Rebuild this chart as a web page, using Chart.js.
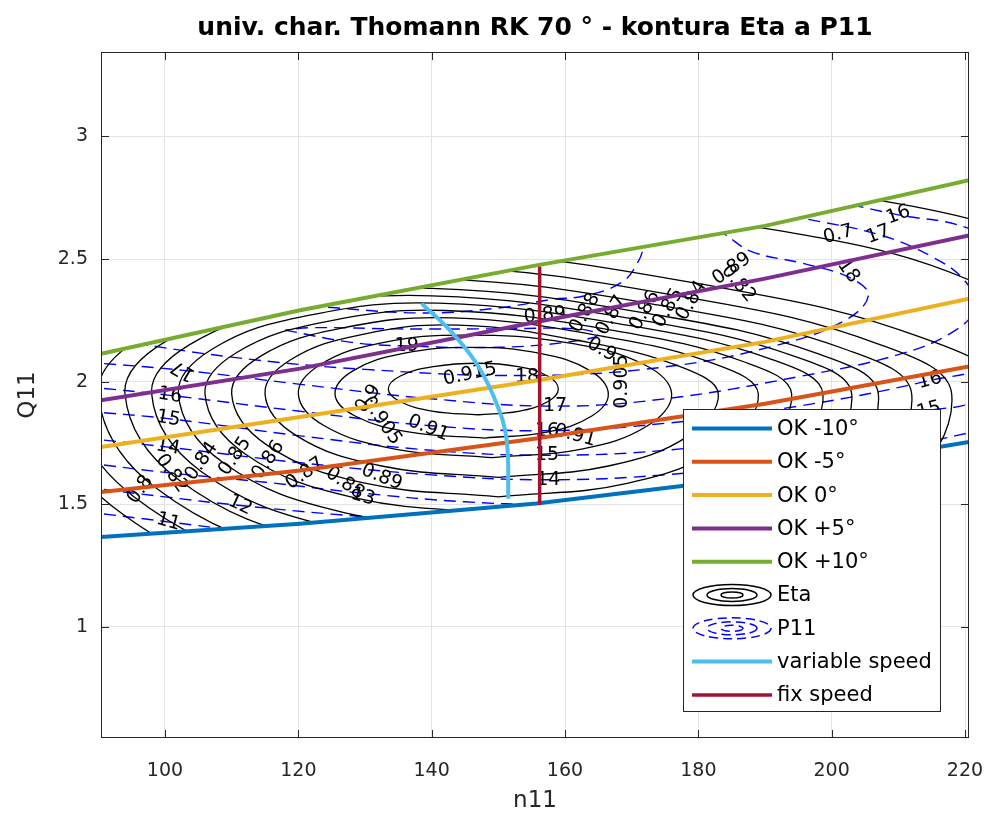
<!DOCTYPE html>
<html lang="en">
<head>
<meta charset="UTF-8">
<title>univ. char. Thomann RK 70</title>
<script src="https://cdn.jsdelivr.net/npm/chart.js"></script>
<style>
  body { margin: 0; background: #ffffff; }
  #wrap { width: 986px; height: 821px; }
</style>
</head>
<body>
<div id="wrap"><canvas id="chart" width="986" height="821"></canvas></div>
<script>
// axis ranges and ticks
const xMin = 90.4, xMax = 220.6;
const yMin = 0.547, yMax = 3.344;
const xTicks = [100, 120, 140, 160, 180, 200, 220];
const yTicks = [1, 1.5, 2, 2.5, 3];

// operating lines (n11, Q11)
const okM10 = [[90.4, 1.367], [120.25, 1.421], [155.7, 1.503], [190, 1.615], [220.6, 1.754]];
const okM5 = [[90.4, 1.55], [120.25, 1.638], [155.7, 1.768], [190, 1.91], [220.6, 2.062]];
const ok0 = [[90.4, 1.733], [120.25, 1.856], [155.7, 2.005], [190, 2.162], [220.6, 2.338]];
const okP5 = [[90.4, 1.924], [120.25, 2.053], [155.7, 2.243], [190, 2.42], [220.6, 2.596]];
const okP10 = [[90.4, 2.114], [120.25, 2.291], [155.7, 2.474], [190, 2.635], [220.6, 2.821]];
const varSpeed = [[138.5, 2.318], [142.75, 2.209], [146.75, 2.073], [149.75, 1.91], [151.25, 1.761], [151.5, 1.523]];
const fixSpeed = [[156.2, 1.497], [156.2, 2.468]];

// Eta contours
const eta0915 = [[147,1.865],[140.25,1.879],[135.31,1.918],[133.5,1.97],[135.31,2.023],[140.25,2.061],[147,2.075],[153,2.061],[157.39,2.023],[159,1.97],[157.39,1.918],[153,1.879],[147,1.865]];
const eta091 = [[148,1.77],[136.75,1.794],[128.51,1.86],[125.5,1.95],[128.25,2.045],[135.75,2.115],[146,2.14],[156.25,2.115],[163.75,2.045],[166.5,1.95],[164.02,1.86],[157.25,1.794],[148,1.77]];
const eta0905 = [[149,1.69],[134.5,1.725],[123.89,1.82],[120,1.95],[123.35,2.07],[132.5,2.158],[145,2.19],[160.5,2.158],[171.85,2.07],[176,1.95],[172.38,1.82],[162.5,1.725],[149,1.69]];
const eta09 = [[150,1.61],[132.5,1.656],[119.69,1.78],[115,1.95],[118.89,2.09],[129.5,2.192],[144,2.23],[163.5,2.16],[177.77,2.056],[183,1.95],[178.58,1.78],[166.5,1.656],[150,1.61]];
const eta089 = [[150,1.53],[130,1.586],[115.36,1.74],[110,1.95],[114.42,2.105],[126.5,2.218],[143,2.26],[166,2.183],[182.84,2.068],[189,1.95],[183.77,1.74],[169.5,1.586],[150,1.53]];
const eta088 = [[151,1.46],[128.5,1.526],[112.03,1.705],[106,1.95],[110.82,2.12],[124,2.244],[142,2.29],[168,2.205],[187.03,2.079],[194,1.95],[188.24,1.705],[172.5,1.526],[151,1.46]];
const eta087 = [[152,1.39],[127,1.465],[108.7,1.67],[102,1.95],[107.23,2.135],[121.5,2.27],[141,2.32],[169.85,2.228],[190.97,2.091],[198.7,1.95],[192.44,1.67],[175.35,1.465],[152,1.39]];
const eta086 = [[153,1.32],[125.5,1.404],[105.37,1.635],[98,1.95],[103.63,2.15],[119,2.296],[140,2.35],[171.5,2.25],[194.56,2.102],[203,1.95],[196.3,1.635],[178,1.404],[153,1.32]];
const eta085 = [[154,1.25],[124,1.344],[102.04,1.6],[94,1.95],[100.16,2.165],[117,2.322],[140,2.38],[173.5,2.273],[198.02,2.113],[207,1.95],[199.9,1.6],[180.5,1.344],[154,1.25]];
const eta084 = [[155,1.18],[122.5,1.283],[98.71,1.565],[90,1.95],[96.7,2.185],[115,2.357],[140,2.42],[176,2.303],[202.35,2.129],[212,1.95],[204.36,1.565],[183.5,1.283],[155,1.18]];
const eta082 = [[156,1.11],[121,1.223],[95.38,1.53],[86,1.95],[93.24,2.21],[113,2.40],[140,2.47],[179,2.34],[207.55,2.148],[218,1.95],[209.69,1.53],[187,1.223],[156,1.11]];
const eta08 = [[158,1.03],[120,1.153],[92.18,1.49],[82,1.95],[89.77,2.24],[111,2.452],[140,2.53],[183,2.385],[214.48,2.17],[226,1.95],[216.89,1.49],[192,1.153],[158,1.03]];
const eta07 = [[160,0.85],[115,0.997],[82.06,1.40],[70,1.95],[79.38,2.34],[105,2.625],[140,2.73],[190,2.625],[226.6,2.34],[240,1.95],[229.28,1.40],[200,0.997],[160,0.85]];
const eta06 = [[165,0.65],[110,0.824],[69.74,1.30],[55,1.95],[66.39,2.425],[97.5,2.773],[140,2.90],[200,2.773],[243.92,2.425],[260,1.95],[247.27,1.30],[212.5,0.824],[165,0.65]];

// P11 contours
const p11_11 = [[88,1.47],[100,1.43],[115,1.38],[130,1.34],[150,1.31],[170,1.32],[195,1.38],[222,1.47]];
const p11_12 = [[88,1.57],[100,1.53],[111,1.496],[125,1.46],[140,1.43],[157,1.40],[175,1.41],[195,1.45],[222,1.54]];
const p11_13 = [[88,1.67],[100,1.63],[115,1.59],[129.7,1.545],[145,1.51],[157,1.50],[175,1.51],[195,1.56],[215,1.64],[222,1.68]];
const p11_14 = [[88,1.77],[100.45,1.733],[120,1.67],[140,1.62],[157,1.60],[175,1.62],[195,1.68],[215,1.76],[222,1.80]];
const p11_15 = [[88,1.88],[100.5,1.849],[120,1.78],[140,1.72],[157,1.70],[175,1.72],[195,1.79],[214.6,1.883],[222,1.93],[232,2.2],[234,2.5],[228,2.75],[218,2.84]];
const p11_16 = [[88,1.98],[100.75,1.944],[120,1.88],[140,1.82],[157.3,1.80],[175,1.83],[195,1.90],[214.75,2.005],[224,2.08],[229,2.3],[227,2.52],[220,2.63],[210,2.68],[198,2.75],[188,2.8]];
const p11_17 = [[88,2.08],[102.75,2.046],[120,1.99],[140,1.93],[158.5,1.90],[175,1.93],[195,2.02],[210,2.11],[218,2.2],[221.5,2.3],[220,2.41],[215,2.51],[207,2.6],[195,2.67],[185,2.73]];
const p11_18 = [[90,2.18],[110,2.1],[130,2.05],[154.3,2.025],[175,2.06],[192,2.15],[202,2.25],[205.5,2.35],[203,2.42],[196,2.48],[188,2.53],[184,2.6],[178,2.7],[173,2.62],[171,2.49],[168.5,2.405],[163,2.35],[158,2.335],[150,2.3],[139,2.28],[126,2.3],[115,2.33],[105,2.37]];
const p11_19 = [[118,2.21],[128,2.16],[136.25,2.145],[150,2.14],[160,2.16],[165,2.19],[162,2.215],[150,2.215],[135,2.215],[122,2.22],[118,2.21]];

// contour labels: text, n11, Q11, rotation (deg)
const etaLabels = [
  ['0.915', 145.75, 2.03, -12], ['0.91', 139.5, 1.81, 22], ['0.905', 132.5, 1.84, 55], ['0.9', 130.5, 1.93, -55],
  ['0.89', 132.5, 1.61, 22], ['0.88', 127, 1.585, 35], ['0.87', 121, 1.625, -35], ['0.86', 115.5, 1.68, -55],
  ['0.85', 110.5, 1.695, -55], ['0.84', 105.5, 1.675, -55], ['0.82', 101, 1.625, 55], ['0.8', 96.3, 1.56, -55],
  ['0.9', 165.5, 2.13, 30], ['0.905', 168.5, 2.0, -90], ['0.91', 161.5, 1.78, 15], ['0.89', 157, 2.27, -5],
  ['0.88', 163, 2.28, -60], ['0.87', 167, 2.27, -60], ['0.86', 172, 2.29, -60], ['0.85', 175.5, 2.30, -60],
  ['0.84', 179, 2.33, -60], ['0.82', 186, 2.40, 50], ['0.89', 185, 2.46, -35], ['0.7', 201, 2.6, -15]
];
const p11Labels = [
  ['11', 100.5, 1.428, 15], ['12', 111.25, 1.496, 25], ['13', 129.7, 1.53, 15], ['14', 100.45, 1.733, 10],
  ['15', 100.5, 1.849, 10], ['16', 100.75, 1.944, 10], ['17', 102.75, 2.046, -150], ['19', 136.25, 2.145, 0],
  ['18', 154.3, 2.02, 0], ['17', 158.5, 1.90, 0], ['16', 157.3, 1.80, 0], ['15', 157.3, 1.70, 0],
  ['14', 157.5, 1.60, 0], ['16', 214.75, 2.005, -15], ['15', 214.6, 1.883, -15], ['16', 210, 2.68, -20],
  ['17', 207, 2.6, -20], ['18', 202.5, 2.45, 55]
];

const etaLines = [eta0915, eta091, eta0905, eta09, eta089, eta088, eta087, eta086, eta085, eta084, eta082, eta08, eta07, eta06];
const p11Lines = [p11_11, p11_12, p11_13, p11_14, p11_15, p11_16, p11_17, p11_18, p11_19];

const FONT = '"DejaVu Sans", "Liberation Sans", sans-serif';

function lineDs(label, pts, color, width, extra) {
  return Object.assign({
    label: label,
    data: pts.map(([x, y]) => ({ x: x, y: y })),
    showLine: true,
    borderColor: color,
    backgroundColor: color,
    borderWidth: width,
    pointRadius: 0,
    fill: false,
    tension: 0
  }, extra || {});
}

const datasets = [
  lineDs('OK -10°', okM10, '#0072BD', 4, { order: 5, legendKind: 'line' }),
  lineDs('OK -5°', okM5, '#D95319', 4, { order: 5, legendKind: 'line' }),
  lineDs('OK 0°', ok0, '#EDB120', 4, { order: 5, legendKind: 'line' }),
  lineDs('OK +5°', okP5, '#7E2F8E', 4, { order: 5, legendKind: 'line' }),
  lineDs('OK +10°', okP10, '#77AC30', 4, { order: 5, legendKind: 'line' })
];
etaLines.forEach((pts, i) => {
  datasets.push(lineDs(i === 0 ? 'Eta' : '', pts, '#000000', 1.3,
    { order: 10, tension: 0.4, bandClip: true, legendKind: i === 0 ? 'eta' : null }));
});
p11Lines.forEach((pts, i) => {
  datasets.push(lineDs(i === 0 ? 'P11' : '', pts, '#0000FF', 1.4,
    { order: 11, tension: 0.4, borderDash: [12, 7], bandClip: true, legendKind: i === 0 ? 'p11' : null }));
});
datasets.push({ label: '', data: [], order: 9, labelLayer: true, pointRadius: 0 });
datasets.push(lineDs('variable speed', varSpeed, '#4DBEEE', 4, { order: 2, tension: 0.4, legendKind: 'line' }));
datasets.push(lineDs('fix speed', fixSpeed, '#A2142F', 3.5, { order: 1, legendKind: 'line' }));

function toPx(chart, x, y) {
  return [chart.scales.x.getPixelForValue(x), chart.scales.y.getPixelForValue(y)];
}

function drawLabels(chart) {
  const ctx = chart.ctx;
  ctx.save();
  ctx.font = '19px ' + FONT;
  ctx.fillStyle = '#000';
  ctx.textAlign = 'center';
  ctx.textBaseline = 'middle';
  etaLabels.concat(p11Labels).forEach(([t, x, y, r]) => {
    const [a, b] = toPx(chart, x, y);
    ctx.save();
    ctx.translate(a, b);
    ctx.rotate(r * Math.PI / 180);
    ctx.fillText(t, 0, 0);
    ctx.restore();
  });
  ctx.restore();
}

function drawLegend(chart) {
  const ctx = chart.ctx;
  const bx = 683.5, by = 409.5, bw = 257, bh = 302, rowH = 33.3;
  ctx.save();
  ctx.fillStyle = '#fff';
  ctx.fillRect(bx, by, bw, bh);
  ctx.strokeStyle = '#262626';
  ctx.lineWidth = 1;
  ctx.strokeRect(bx, by, bw, bh);
  ctx.font = '21px ' + FONT;
  ctx.textBaseline = 'middle';
  ctx.textAlign = 'left';
  let row = 0;
  chart.data.datasets.forEach(ds => {
    if (!ds.legendKind) return;
    const cy = by + 19 + row * rowH;
    ctx.setLineDash([]);
    if (ds.legendKind === 'line') {
      ctx.strokeStyle = ds.borderColor;
      ctx.lineWidth = ds.borderWidth;
      ctx.beginPath();
      ctx.moveTo(692, cy);
      ctx.lineTo(772, cy);
      ctx.stroke();
    } else {
      ctx.strokeStyle = ds.borderColor;
      ctx.lineWidth = 1.5;
      if (ds.legendKind === 'p11') ctx.setLineDash([9, 5]);
      [[39, 10.5], [25, 6.5], [11, 3]].forEach(([rx, ry]) => {
        ctx.beginPath();
        ctx.ellipse(732, cy, rx, ry, 0, 0, Math.PI * 2);
        ctx.stroke();
      });
      ctx.setLineDash([]);
    }
    ctx.fillStyle = '#000';
    ctx.fillText(ds.label, 777, cy + 1);
    row++;
  });
  ctx.restore();
}

const contourPlugin = {
  id: 'contourPlugin',
  beforeDatasetDraw(chart, args) {
    const ds = chart.data.datasets[args.index];
    if (!ds.bandClip) return;
    const ctx = chart.ctx;
    ctx.save();
    ctx.beginPath();
    okP10.forEach(([x, y], i) => {
      const [a, b] = toPx(chart, x, y);
      if (i === 0) ctx.moveTo(a, b); else ctx.lineTo(a, b);
    });
    okM10.slice().reverse().forEach(([x, y]) => {
      const [a, b] = toPx(chart, x, y);
      ctx.lineTo(a, b);
    });
    ctx.closePath();
    ctx.clip();
  },
  afterDatasetDraw(chart, args) {
    const ds = chart.data.datasets[args.index];
    if (ds.bandClip) chart.ctx.restore();
    if (ds.labelLayer) drawLabels(chart);
  },
  afterDraw(chart) {
    const ctx = chart.ctx;
    const a = chart.chartArea;
    ctx.save();
    // axes box with inward ticks
    ctx.strokeStyle = '#262626';
    ctx.lineWidth = 1;
    ctx.strokeRect(a.left + 0.5, a.top + 0.5, a.right - a.left - 1, a.bottom - a.top - 1);
    ctx.beginPath();
    xTicks.forEach(v => {
      const x = Math.round(chart.scales.x.getPixelForValue(v)) + 0.5;
      ctx.moveTo(x, a.bottom); ctx.lineTo(x, a.bottom - 8);
      ctx.moveTo(x, a.top); ctx.lineTo(x, a.top + 8);
    });
    yTicks.forEach(v => {
      const y = Math.round(chart.scales.y.getPixelForValue(v)) + 0.5;
      ctx.moveTo(a.left, y); ctx.lineTo(a.left + 8, y);
      ctx.moveTo(a.right, y); ctx.lineTo(a.right - 8, y);
    });
    ctx.stroke();
    // titles
    ctx.fillStyle = '#000';
    ctx.textAlign = 'center';
    ctx.textBaseline = 'middle';
    ctx.font = 'bold 25px ' + FONT;
    ctx.fillText('univ. char. Thomann RK 70 ° - kontura Eta a P11', (a.left + a.right) / 2, 28);
    ctx.fillStyle = '#262626';
    ctx.font = '23px ' + FONT;
    ctx.fillText('n11', (a.left + a.right) / 2, 801);
    ctx.translate(28, (a.top + a.bottom) / 2);
    ctx.rotate(-Math.PI / 2);
    ctx.fillText('Q11', 0, 0);
    ctx.restore();
    drawLegend(chart);
  }
};

new Chart(document.getElementById('chart'), {
  type: 'scatter',
  data: { datasets: datasets },
  options: {
    responsive: false,
    animation: false,
    events: [],
    layout: { padding: { left: 0, top: 52, right: 17, bottom: 0 } },
    elements: { line: { capBezierPoints: false } },
    plugins: { legend: { display: false }, tooltip: { enabled: false }, title: { display: false } },
    scales: {
      x: {
        type: 'linear', min: xMin, max: xMax,
        afterBuildTicks: s => { s.ticks = xTicks.map(v => ({ value: v })); },
        afterFit: s => { s.height = 83; s.paddingLeft = 0; s.paddingRight = 0; },
        grid: { color: '#e3e3e3', drawTicks: false },
        border: { display: false },
        ticks: { color: '#262626', font: { family: FONT, size: 19 }, padding: 22, maxRotation: 0, autoSkip: false, callback: v => String(v) }
      },
      y: {
        type: 'linear', min: yMin, max: yMax,
        afterBuildTicks: s => { s.ticks = yTicks.map(v => ({ value: v })); },
        afterFit: s => { s.width = 101; s.paddingTop = 0; s.paddingBottom = 0; },
        grid: { color: '#e3e3e3', drawTicks: false },
        border: { display: false },
        ticks: { color: '#262626', font: { family: FONT, size: 19 }, padding: 13, autoSkip: false, callback: v => String(v) }
      }
    }
  },
  plugins: [contourPlugin]
});
</script>
</body>
</html>
